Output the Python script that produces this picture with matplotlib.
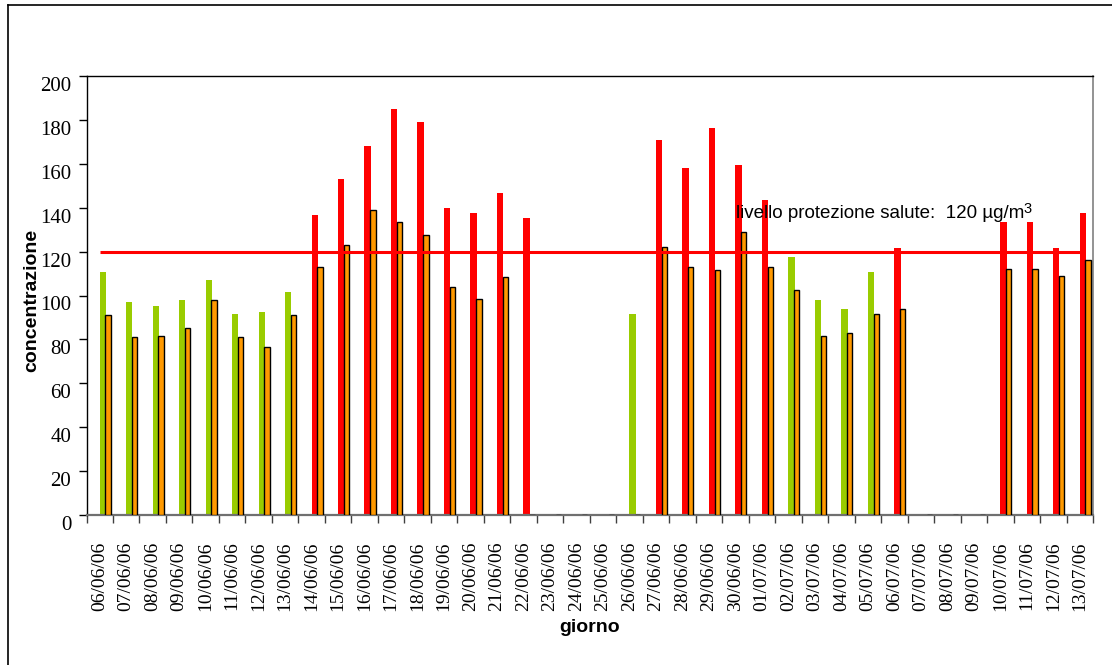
import matplotlib
matplotlib.use("Agg")
import matplotlib.pyplot as plt
from matplotlib.lines import Line2D
from matplotlib.transforms import ScaledTranslation
import numpy as np

days = ["06/06/06", "07/06/06", "08/06/06", "09/06/06", "10/06/06", "11/06/06",
        "12/06/06", "13/06/06", "14/06/06", "15/06/06", "16/06/06", "17/06/06",
        "18/06/06", "19/06/06", "20/06/06", "21/06/06", "22/06/06", "23/06/06",
        "24/06/06", "25/06/06", "26/06/06", "27/06/06", "28/06/06", "29/06/06",
        "30/06/06", "01/07/06", "02/07/06", "03/07/06", "04/07/06", "05/07/06",
        "06/07/06", "07/07/06", "08/07/06", "09/07/06", "10/07/06", "11/07/06",
        "12/07/06", "13/07/06"]

max_values = [110.5, 97, 95, 98, 107, 91.5, 92.5, 101.5, 136.5, 153, 168, 185,
              179, 140, 137.5, 146.5, 135.5, None, None, None, 91.5, 171, 158,
              176.5, 159.5, 143.5, 117.5, 98, 94, 110.5, 121.5, None, None, None,
              133.5, 133.5, 121.5, 137.5]

mean_values = [91, 81, 81.5, 85, 98, 81, 76.5, 91, 113, 123, 139, 133.5,
               127.5, 104, 98.5, 108.5, None, None, None, None, None, 122, 113,
               111.5, 129, 113, 102.5, 81.5, 83, 91.5, 94, None, None, None,
               112, 112, 109, 116]

threshold = 120
yticks = [0, 20, 40, 60, 80, 100, 120, 140, 160, 180, 200]

W, H = 1112, 665
fig = plt.figure(figsize=(W / 100, H / 100), dpi=100)
ax = fig.add_axes([86.5 / W, 1 - 515 / H, (1093 - 86.5) / W, (515 - 76) / H])

x = np.arange(len(days))
mx = np.array([np.nan if v is None else v for v in max_values], dtype=float)
mn = np.array([np.nan if v is None else v for v in mean_values], dtype=float)
colors = ["#FF0000" if (not np.isnan(v) and v >= threshold) else "#99CC00" for v in mx]

ax.bar(x + 0.115, np.nan_to_num(mx), width=0.24, color=colors, edgecolor="none", zorder=2)
ax.bar(x + 0.315, np.nan_to_num(mn), width=0.2, color="#FF9900", edgecolor="black",
       linewidth=1.0, zorder=3)
ax.plot(x, [threshold] * len(days), color="#FF0000", linewidth=2.2, zorder=4,
        solid_capstyle="butt")

ax.set_xlim(-0.5, len(days) - 0.5)
ax.set_ylim(0, 200)

# x ticks: marks at boundaries, labels at centers
ax.set_xticks(np.arange(len(days) + 1) - 0.5, minor=True)
ax.set_xticks(x)
ax.set_xticklabels(days, rotation=90, fontsize=14, family="Liberation Serif")
ax.tick_params(axis="x", which="major", length=0, pad=19)
ax.tick_params(axis="x", which="minor", length=6, width=1, color="#404040", direction="out")

ax.set_yticks(yticks)
ax.set_yticklabels([str(v) for v in yticks], fontsize=15, family="Liberation Serif")
ax.tick_params(axis="y", length=6, width=1, direction="out", pad=5)
off = ScaledTranslation(0, -8 / 100, fig.dpi_scale_trans)
for lab in ax.get_yticklabels():
    lab.set_transform(lab.get_transform() + off)

for s in ["left", "top"]:
    ax.spines[s].set_color("black")
    ax.spines[s].set_linewidth(1.0)
ax.spines["bottom"].set_color("#707070")
ax.spines["bottom"].set_linewidth(1.6)
ax.spines["right"].set_color("#808080")
ax.spines["right"].set_linewidth(1.2)

fig.text(31.5 / W, 1 - 300 / H, "concentrazione", rotation=90, ha="center", va="center",
         fontsize=14, fontweight="bold", family="Liberation Sans")
fig.text(590 / W, 1 - 627 / H, "giorno", ha="center", va="center",
         fontsize=14, fontweight="bold", family="Liberation Sans")

t = ax.text(24.04, 135.3, "livello protezione salute:  120 µg/m", ha="left", va="baseline",
            fontsize=13.5, family="Liberation Sans", zorder=5)
fig.canvas.draw()
bb = t.get_window_extent(renderer=fig.canvas.get_renderer())
fig.text((bb.x1 - 1.0) / W, (bb.y0 + 9.5) / H, "3", ha="left", va="baseline",
         fontsize=10.5, family="Liberation Sans")

# outer frame (left and top edges)
fig.add_artist(Line2D([7.5 / W, 7.5 / W], [0, 1 - 4.5 / H], transform=fig.transFigure,
                      color="black", linewidth=1.2))
fig.add_artist(Line2D([7.5 / W, 1], [1 - 4.5 / H, 1 - 4.5 / H], transform=fig.transFigure,
                      color="black", linewidth=1.2))

fig.savefig("out.png", dpi=100)
